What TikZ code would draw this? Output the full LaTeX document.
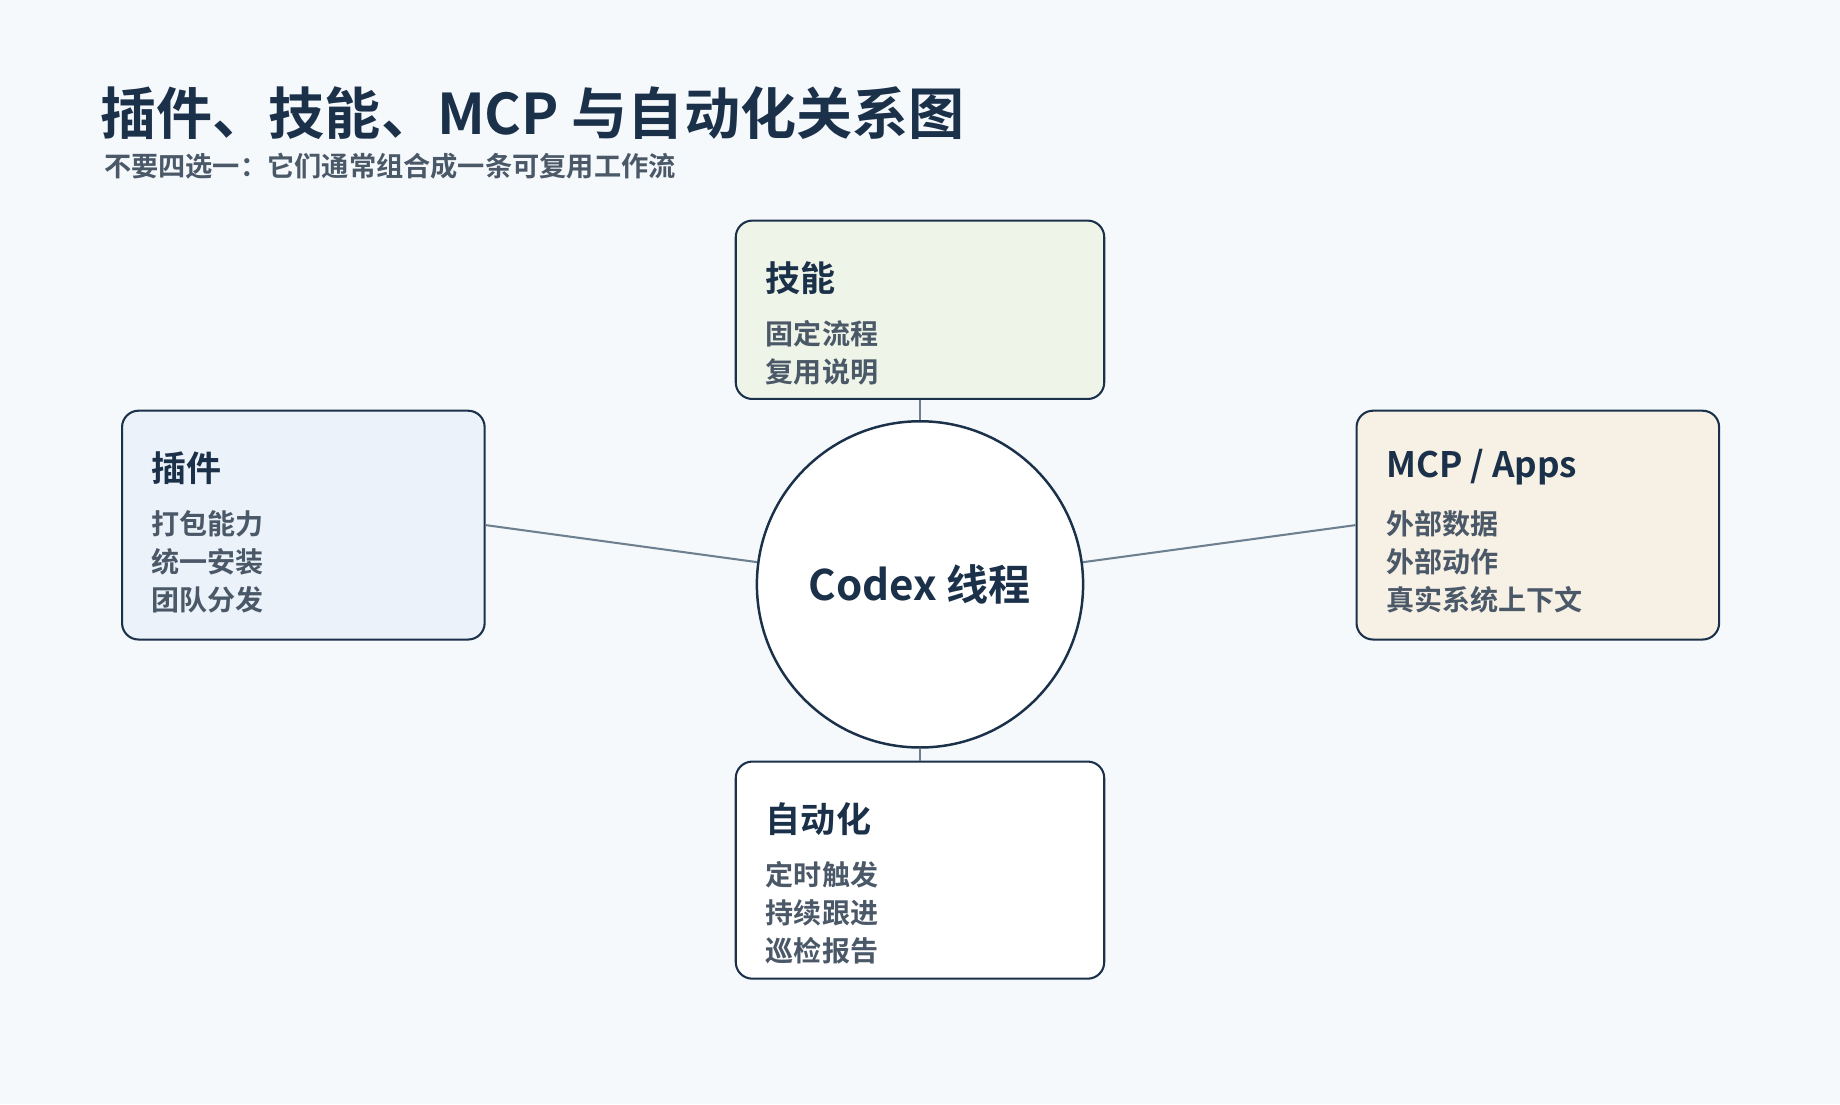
\documentclass[tikz,border=0pt]{standalone}
\usepackage{fontspec}
\setmainfont{Noto Sans CJK SC}
\newfontfamily\cjkbold{Noto Sans CJK SC Bold}
\usetikzlibrary{positioning}
\definecolor{bgcol}{HTML}{F5F9FC}
\definecolor{ink}{HTML}{1B3049}
\definecolor{subink}{HTML}{4A5868}
\definecolor{linecol}{HTML}{6E8090}
\definecolor{skillfill}{HTML}{EEF5E8}
\definecolor{plugfill}{HTML}{EBF2F9}
\definecolor{mcpfill}{HTML}{F6F0E5}
\tikzset{
  card/.style={draw=ink, line width=0.5pt, rounded corners=4pt},
  cardtitle/.style={anchor=north west, inner sep=0pt, text=ink, font=\cjkbold\fontsize{8.5}{10}\selectfont},
  carditems/.style={anchor=north west, inner sep=0pt, text=subink, align=left, font=\cjkbold\fontsize{6.8}{9.3}\selectfont},
  link/.style={draw=linecol, line width=0.5pt}
}
\begin{document}
\begin{tikzpicture}[x=0.1mm,y=-0.1mm]
	\fill[bgcol] (0,0) rectangle (1568,941);
	\useasboundingbox (0,0) rectangle (1568,941);
	% heading
	\node [anchor=base west, inner sep=0pt, text=ink, font=\cjkbold\fontsize{13.6}{16}\selectfont] (title) at (85,115) {插件、技能、MCP 与自动化关系图};
	\node [anchor=base west, inner sep=0pt, text=subink, font=\cjkbold\fontsize{6.6}{8}\selectfont] (subtitle) at (88,150) {不要四选一：它们通常组合成一条可复用工作流};
	% cards
	\node [card, fill=skillfill, minimum width=314mm/10, minimum height=152mm/10] (skill) at (784,264) {};
	\node [card, fill=plugfill, minimum width=309mm/10, minimum height=195mm/10] (plug) at (258.5,447.5) {};
	\node [card, fill=mcpfill, minimum width=309mm/10, minimum height=195mm/10] (mcp) at (1310.5,447.5) {};
	\node [card, fill=white, minimum width=314mm/10, minimum height=185mm/10] (auto) at (784,741.5) {};
	\node [draw=ink, line width=0.6pt, fill=white, circle, minimum size=278mm/10, text=ink, font=\cjkbold\fontsize{10.2}{12}\selectfont] (codex) at (784,498) {Codex 线程};
	% links
	\draw [link] (plug.east) -- (codex);
	\draw [link] (mcp.west) -- (codex);
	\draw [link] (skill.south) -- (codex.north);
	\draw [link] (auto.north) -- (codex.south);
	% card texts
	\node [cardtitle] (skillt) at (652,222) {技能};
	\node [carditems] (skilli) at (652,272) {固定流程\\复用说明};
	\node [cardtitle] (plugt) at (128,384) {插件};
	\node [carditems] (plugi) at (128,434) {打包能力\\统一安装\\团队分发};
	\node [cardtitle] (mcpt) at (1181,382) {MCP / Apps};
	\node [carditems] (mcpi) at (1181,434) {外部数据\\外部动作\\真实系统上下文};
	\node [cardtitle] (autot) at (652,683) {自动化};
	\node [carditems] (autoi) at (652,733) {定时触发\\持续跟进\\巡检报告};
\end{tikzpicture}
\end{document}
